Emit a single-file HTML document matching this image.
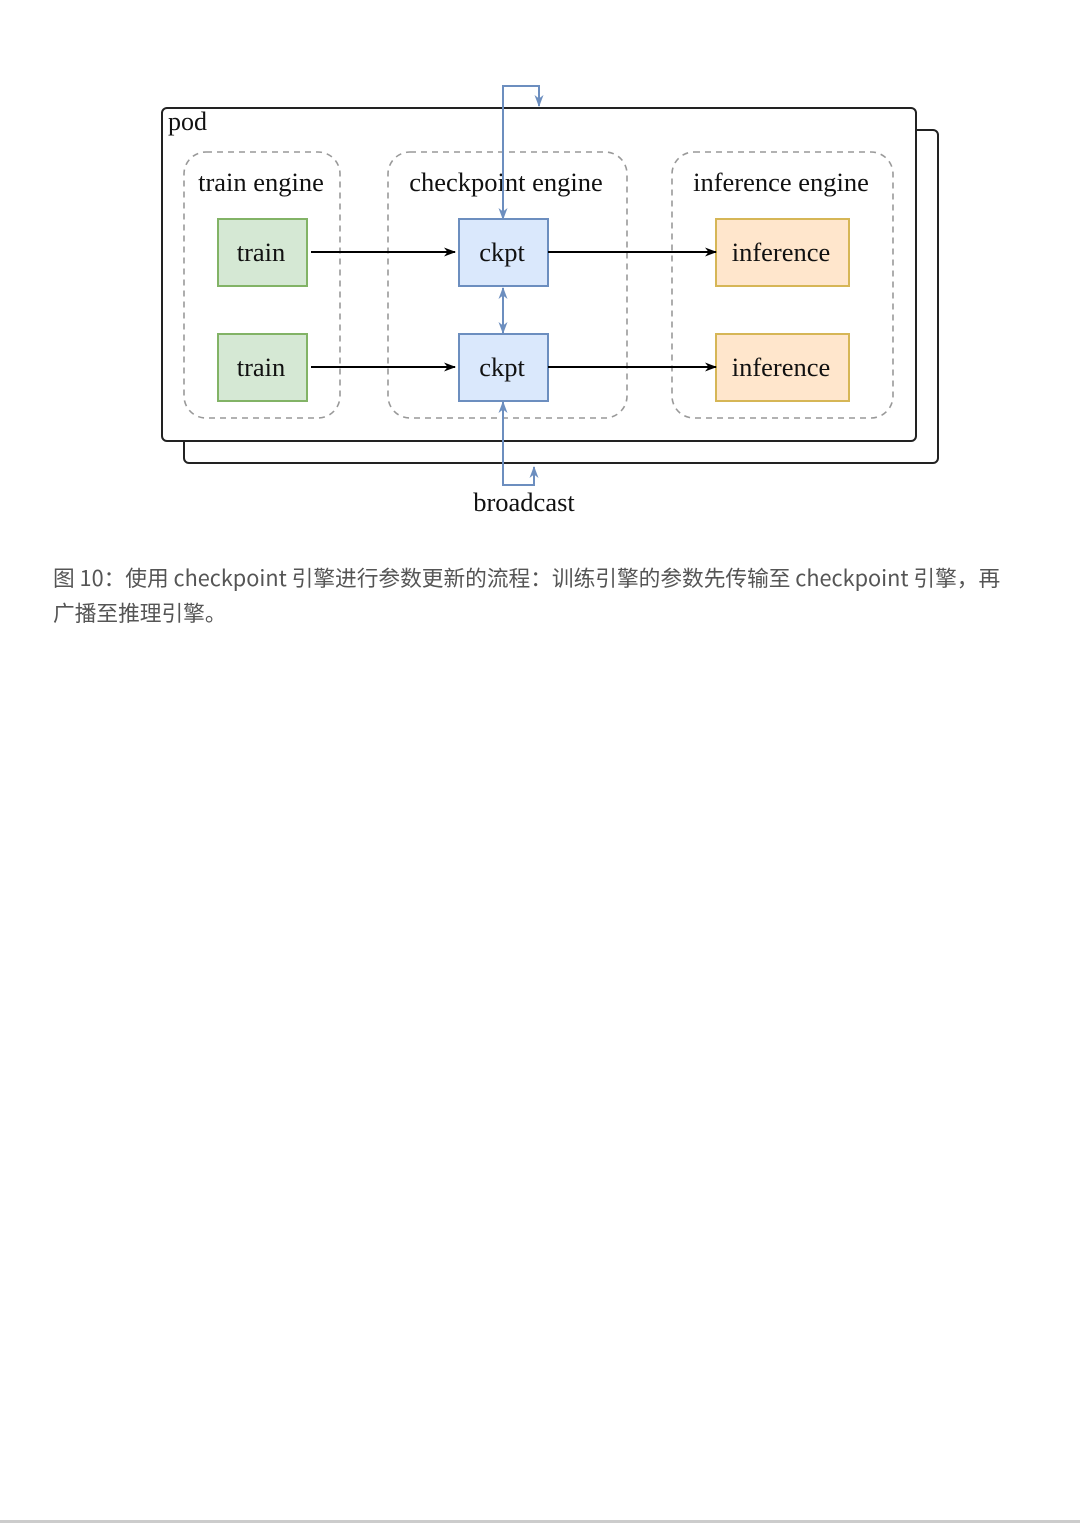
<!DOCTYPE html>
<html><head><meta charset="utf-8"><style>
html,body{margin:0;padding:0;background:#fff;}
body{width:1080px;height:1523px;position:relative;overflow:hidden;}
.cap{position:absolute;left:53px;font-family:"Noto Sans CJK SC","Liberation Sans",sans-serif;font-size:21.7px;color:#555;white-space:nowrap;line-height:28px;}
.bl{position:absolute;left:0;top:1520px;width:1080px;height:3px;background:#ccc;}
</style></head><body>
<svg width="1080" height="540" style="position:absolute;left:0;top:0" font-family="Liberation Serif, serif">
<defs>
<marker id="ab" markerWidth="12" markerHeight="12" refX="11" refY="6" orient="auto" markerUnits="userSpaceOnUse"><path d="M0,1.5 L12,6 L0,10.5 L3.5,6z" fill="#000"/></marker>
<marker id="au" markerWidth="12" markerHeight="12" refX="11" refY="6" orient="auto" markerUnits="userSpaceOnUse"><path d="M0,1.5 L12,6 L0,10.5 L3.5,6z" fill="#6c8ebf"/></marker>
<marker id="aus" markerWidth="12" markerHeight="12" refX="1" refY="6" orient="auto" markerUnits="userSpaceOnUse"><path d="M12,1.5 L0,6 L12,10.5 L8.5,6z" fill="#6c8ebf"/></marker>
</defs>
<rect x="184" y="130" width="754" height="333" rx="5" fill="#fff" stroke="#222" stroke-width="2"/>
<rect x="162" y="108" width="754" height="333" rx="5" fill="#fff" stroke="#222" stroke-width="2"/>
<text x="168" y="130" font-size="26" fill="#111">pod</text>
<g fill="none" stroke="#999" stroke-width="1.6" stroke-dasharray="6,5">
<rect x="184" y="152" width="156" height="266" rx="22"/>
<rect x="388" y="152" width="239" height="266" rx="22"/>
<rect x="672" y="152" width="221" height="266" rx="22"/>
</g>
<g font-size="26.5" fill="#111" text-anchor="middle">
<text x="261" y="191">train engine</text>
<text x="506" y="191">checkpoint engine</text>
<text x="781" y="191">inference engine</text>
</g>
<g stroke-width="2">
<rect x="218" y="219" width="89" height="67" fill="#d5e8d4" stroke="#82b366"/>
<rect x="218" y="334" width="89" height="67" fill="#d5e8d4" stroke="#82b366"/>
<rect x="459" y="219" width="89" height="67" fill="#dae8fc" stroke="#6c8ebf"/>
<rect x="459" y="334" width="89" height="67" fill="#dae8fc" stroke="#6c8ebf"/>
<rect x="716" y="219" width="133" height="67" fill="#ffe6cc" stroke="#d6b656"/>
<rect x="716" y="334" width="133" height="67" fill="#ffe6cc" stroke="#d6b656"/>
</g>
<g font-size="26.5" fill="#111" text-anchor="middle">
<text x="261" y="261">train</text><text x="261" y="376">train</text>
<text x="502" y="261">ckpt</text><text x="502" y="376">ckpt</text>
<text x="781" y="261">inference</text><text x="781" y="376">inference</text>
</g>
<g stroke="#000" stroke-width="2" fill="none">
<line x1="311" y1="252" x2="455" y2="252" marker-end="url(#ab)"/>
<line x1="311" y1="367" x2="455" y2="367" marker-end="url(#ab)"/>
<line x1="548" y1="252" x2="716" y2="252" marker-end="url(#ab)"/>
<line x1="548" y1="367" x2="716" y2="367" marker-end="url(#ab)"/>
</g>
<g stroke="#6c8ebf" stroke-width="2" fill="none">
<polyline points="503,219 503,86 539,86 539,106" marker-end="url(#au)"/>
<line x1="503" y1="200" x2="503" y2="219" marker-end="url(#au)"/>
<line x1="503" y1="288" x2="503" y2="333" marker-start="url(#aus)" marker-end="url(#au)"/>
<polyline points="503,402 503,485 534,485 534,467" marker-end="url(#au)"/>
<line x1="503" y1="420" x2="503" y2="402" marker-end="url(#au)"/>
</g>
<text x="524" y="511" font-size="26.5" fill="#111" text-anchor="middle">broadcast</text>
</svg>
<div class="cap" style="top:564px">图 10：使用 checkpoint 引擎进行参数更新的流程：训练引擎的参数先传输至 checkpoint 引擎，再</div>
<div class="cap" style="top:599px">广播至推理引擎。</div>
<div class="bl"></div>
</body></html>
